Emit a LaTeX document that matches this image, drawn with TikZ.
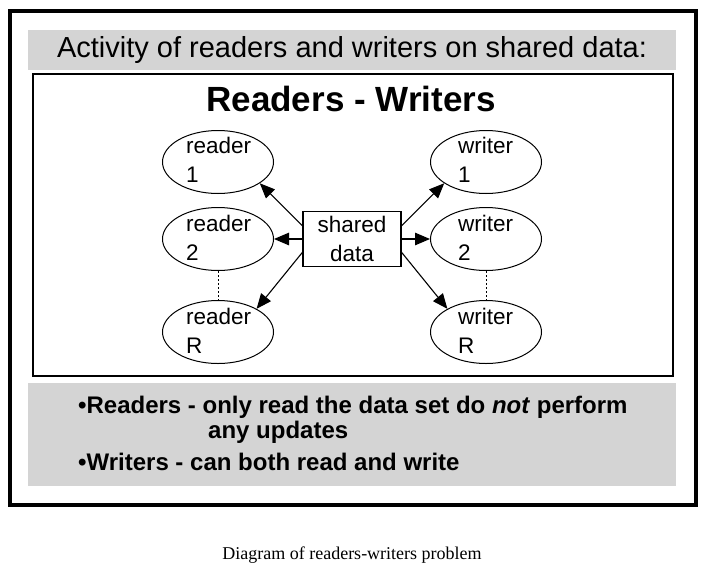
\documentclass[tikz,border=0pt]{standalone}
\usepackage{fontspec}
\setmainfont{Liberation Sans}
\newfontfamily\capfont{Liberation Serif}
\usepackage{graphicx}
\usetikzlibrary{shapes.geometric,arrows.meta}
\definecolor{bandgray}{RGB}{212,212,212}
\tikzset{
  agent/.style={draw, ellipse, minimum width=111pt, minimum height=63pt, inner sep=0pt, line width=1pt},
  agenttext/.style={align=left, inner sep=0pt, anchor=west, font=\fontsize{22.5}{28.5}\selectfont},
  databox/.style={draw, rectangle, minimum width=98pt, minimum height=55pt, inner sep=0pt, line width=1.1pt, align=center, font=\fontsize{22.5}{28.5}\selectfont},
  arr/.style={line width=1.1pt, -{Triangle[length=15pt,width=12.5pt]}},
  dotline/.style={line width=1pt, dash pattern=on 2pt off 2pt},
  bullettext/.style={anchor=base west, inner sep=0pt, font=\bfseries\fontsize{24}{24}\selectfont}
}
\begin{document}
\begin{tikzpicture}[x=1pt,y=-1pt]
\useasboundingbox (0,0) rectangle (714,584);
\fill[white] (0,0) rectangle (714,584);
% outer frame
\draw[line width=4pt] (10,11) rectangle (696,505);
% title band
\fill[bandgray] (28,30) rectangle (676,70);
\node[inner sep=0pt] (title) at (352,50) {\fontsize{29}{29}\selectfont Activity of readers and writers on shared data:};
% inner box
\draw[line width=1.8pt] (33,74) rectangle (673,376);
\node[inner sep=0pt, font=\bfseries\fontsize{35}{35}\selectfont] (rw) at (351,99) {Readers - Writers};
% agents
\node[agent] (r1) at (218,162) {};
\node[agent] (r2) at (218,239) {};
\node[agent] (rR) at (218,332) {};
\node[agent] (w1) at (486,162) {};
\node[agent] (w2) at (486,239) {};
\node[agent] (wR) at (486,332) {};
\node[agenttext] (r1t) at (186,160) {reader\\1};
\node[agenttext] (r2t) at (186,238) {reader\\2};
\node[agenttext] (rRt) at (186,331) {reader\\R};
\node[agenttext] (w1t) at (458,160) {writer\\1};
\node[agenttext] (w2t) at (458,238) {writer\\2};
\node[agenttext] (wRt) at (458,331) {writer\\R};
\node[databox] (sd) at (352,239) {shared\\data};
% arrows
\draw[arr] (sd.165) -- (r1.-27);
\draw[arr] (sd.west) -- (r2.east);
\draw[arr] (sd.195) -- (rR.31);
\draw[arr] (sd.15) -- (w1.207);
\draw[arr] (sd.east) -- (w2.west);
\draw[arr] (sd.-15) -- (wR.149);
% dotted
\draw[dotline] (r2.south) -- (rR.north);
\draw[dotline] (w2.south) -- (wR.north);
% bottom band
\fill[bandgray] (28,383) rectangle (676,486);
\node[bullettext] (b1) at (78,413) {\textbullet Readers - only read the data set do \textit{not} perform};
\node[bullettext] (b2) at (208,438) {any updates};
\node[bullettext] (b3) at (78,470) {\textbullet Writers - can both read and write};
% caption
\node[inner sep=0pt, font=\capfont\fontsize{18}{18}\selectfont] (cap) at (352,555) {Diagram of readers-writers problem};
\end{tikzpicture}
\end{document}
